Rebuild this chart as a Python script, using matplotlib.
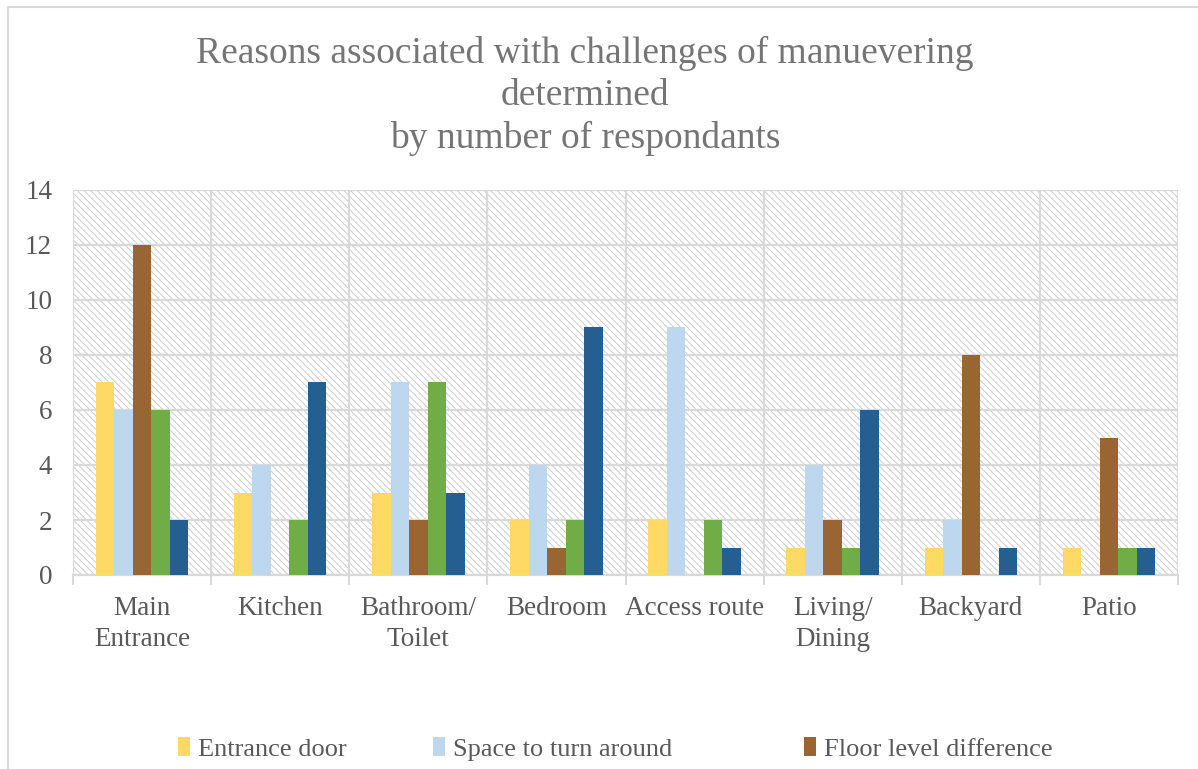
import matplotlib
matplotlib.use("Agg")
import matplotlib.pyplot as plt
import numpy as np
from matplotlib.patches import Rectangle, Patch

categories = ["Main\nEntrance", "Kitchen", "Bathroom/\nToilet", "Bedroom",
              "Access route", "Living/\nDining", "Backyard", "Patio"]
entrance_door = [7, 3, 3, 2, 2, 1, 1, 1]
turn_space = [6, 4, 7, 4, 9, 4, 2, 0]
floor_level = [12, 0, 2, 1, 0, 2, 8, 5]
# last two series: their legend entries are cut off in the source image
series4 = [6, 2, 7, 2, 2, 1, 0, 1]
series5 = [2, 7, 3, 9, 1, 6, 1, 1]

series = [entrance_door, turn_space, floor_level, series4, series5]
names = ["Entrance door", "Space to turn around", "Floor level difference"]
colors = ["#FFD966", "#BDD7EE", "#996633", "#70AD47", "#255E91"]

plt.rcParams["font.family"] = ["Liberation Serif", "DejaVu Serif"]
plt.rcParams["hatch.linewidth"] = 0.7

fig = plt.figure(figsize=(11.98, 7.69), dpi=100)
ax = fig.add_axes([73 / 1198, 1 - 575 / 769, (1178 - 73) / 1198, (575 - 190) / 769])

# hatched plot area
ax.patch.set_facecolor("white")
ax.add_patch(Rectangle((0, 0), 1, 1, transform=ax.transAxes, facecolor="white",
                       edgecolor="#cccccc", hatch="\\\\\\\\\\", linewidth=0, zorder=0))

x = np.arange(len(categories))
w = 0.134
for i, (vals, c) in enumerate(zip(series, colors)):
    ax.bar(x + (i - 2) * w, vals, width=w, color=c, zorder=3)

ax.set_xlim(-0.5, len(categories) - 0.5)
ax.set_ylim(0, 14)
ax.set_yticks(range(0, 15, 2))
ax.set_xticks(x)
ax.set_xticklabels(categories, fontsize=19.5, color="#595959", linespacing=1.3)
ax.set_xticks(np.arange(-0.5, len(categories)), minor=True)
ax.tick_params(axis="x", which="major", length=0, pad=15)
ax.tick_params(axis="x", which="minor", length=7, width=1.5, color="#d9d9d9")
ax.tick_params(axis="y", length=0, labelsize=19.5, labelcolor="#595959", pad=15)

ax.grid(axis="y", color="#d9d9d9", linewidth=1.6, zorder=1)
ax.grid(axis="x", which="minor", color="#d9d9d9", linewidth=1.6, zorder=1)
ax.set_axisbelow(True)
for s in ["top", "right", "left"]:
    ax.spines[s].set_visible(False)
ax.spines["bottom"].set_color("#d9d9d9")
ax.spines["bottom"].set_linewidth(1.6)

fig.text(585 / 1198, 1 - 96 / 769,
         "Reasons associated with challenges of manuevering\ndetermined\nby number of respondants",
         ha="center", va="center", fontsize=27, color="#757575", linespacing=1.28)

# legend entries (only the first three are visible in the source)
leg_x = [178, 433, 804]
for i in range(3):
    leg = fig.legend([Patch(facecolor=colors[i])], [names[i]], loc="center left",
                     bbox_to_anchor=(leg_x[i] / 1198, 1 - 749 / 769), frameon=False,
                     fontsize=19, handlelength=0.45, handleheight=0.75,
                     handletextpad=0.3, borderpad=0, borderaxespad=0, labelcolor="#595959")

# chart frame
fig.patches.append(Rectangle((8 / 1198, -0.05), 1.1, 1 - 7 / 769 + 0.05,
                             transform=fig.transFigure, fill=False,
                             edgecolor="#d9d9d9", linewidth=1.5))

fig.savefig("out.png", dpi=100)
